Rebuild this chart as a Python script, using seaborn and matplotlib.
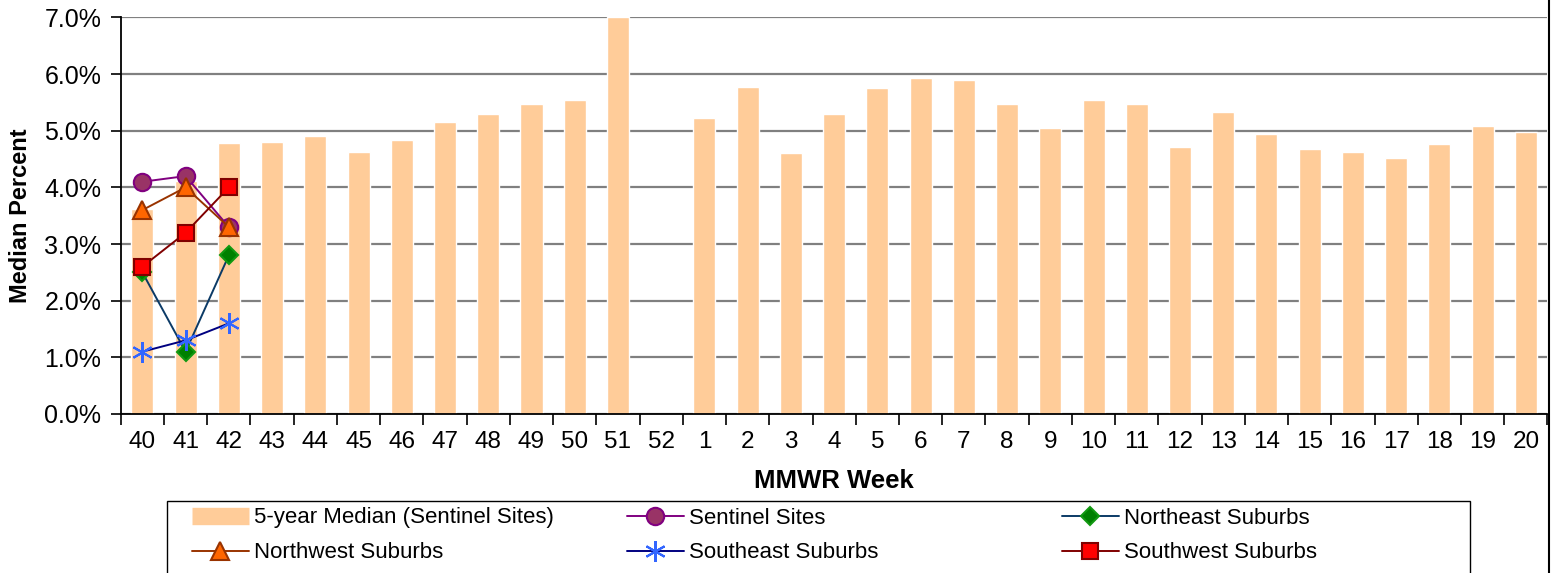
import numpy as np
import pandas as pd
import matplotlib
matplotlib.use("Agg")
import matplotlib.pyplot as plt
import matplotlib.ticker as mticker
from matplotlib.lines import Line2D
from matplotlib.patches import Rectangle
import seaborn as sns

# ---- data ----
weeks = ["40", "41", "42", "43", "44", "45", "46", "47", "48", "49", "50", "51", "52",
         "1", "2", "3", "4", "5", "6", "7", "8", "9", "10", "11", "12", "13", "14",
         "15", "16", "17", "18", "19", "20"]
median5 = [3.62, 4.12, 4.78, 4.80, 4.90, 4.62, 4.83, 5.15, 5.30, 5.47, 5.55, 7.0, np.nan,
           5.22, 5.78, 4.60, 5.30, 5.75, 5.93, 5.90, 5.47, 5.05, 5.55, 5.47, 4.72, 5.33,
           4.95, 4.67, 4.62, 4.52, 4.77, 5.08, 4.98]
obs_weeks = ["40", "41", "42"]
sentinel = [4.1, 4.2, 3.3]
northeast = [2.5, 1.1, 2.8]
northwest = [3.6, 4.0, 3.3]
southeast = [1.1, 1.3, 1.6]
southwest = [2.6, 3.2, 4.0]

bar_label = "5-year Median (Sentinel Sites)"
bar_color = "#FFCC99"
series = [
    ("Sentinel Sites", sentinel, dict(color="#800080", marker="o", markerfacecolor="#993366",
                                      markeredgecolor="#800080", markersize=12.5)),
    ("Northeast Suburbs", northeast, dict(color="#0B3A66", marker="D", markerfacecolor="#008000",
                                          markeredgecolor="#119911", markersize=9)),
    ("Northwest Suburbs", northwest, dict(color="#993300", marker="^", markerfacecolor="#FF6600",
                                          markeredgecolor="#993300", markersize=13)),
    ("Southeast Suburbs", southeast, dict(color="#000080", marker=(6, 2, 0), markerfacecolor="#3366FF",
                                          markeredgecolor="#3366FF", markersize=15)),
    ("Southwest Suburbs", southwest, dict(color="#800000", marker="s", markerfacecolor="#FF0000",
                                          markeredgecolor="#800000", markersize=12)),
]

sns.set_theme(style="white")
plt.rcParams["font.family"] = ["Liberation Sans", "DejaVu Sans"]
plt.rcParams["text.color"] = "black"

fig = plt.figure(figsize=(15.52, 5.73), dpi=100)
ax = fig.add_axes([0.0778, 0.2775, 0.9193, 0.692])

df_bar = pd.DataFrame({"week": weeks, "value": median5})
sns.barplot(data=df_bar, x="week", y="value", order=weeks, color=bar_color,
            saturation=1, width=0.51, ax=ax, zorder=2)

for name, vals, kw in series:
    d = pd.DataFrame({"week": obs_weeks, "value": vals})
    sns.pointplot(data=d, x="week", y="value", order=weeks, ax=ax,
                  linewidth=1.4, markeredgewidth=1.5, zorder=5, **kw)

ax.set_xlim(-0.5, len(weeks) - 0.5)
ax.set_ylim(0, 7)
ax.yaxis.set_major_locator(mticker.MultipleLocator(1))
ax.yaxis.set_major_formatter(mticker.FormatStrFormatter("%.1f%%"))
ax.yaxis.grid(True, color="#808080", linewidth=1.6)
ax.xaxis.grid(False)
ax.set_axisbelow(True)

ax.set_xticks(range(len(weeks)))
ax.set_xticklabels(weeks)
ax.set_xticks(np.arange(-0.5, len(weeks), 1.0), minor=True)
ax.tick_params(axis="x", which="major", length=0, labelsize=17.5, pad=12, colors="black")
ax.tick_params(axis="x", which="minor", length=8, width=1.2, color="black", direction="out", bottom=True)
ax.tick_params(axis="y", which="major", length=7, width=1.2, color="black", direction="out",
               left=True, labelsize=18, pad=7, labelcolor="black")

for s in ["top", "right"]:
    ax.spines[s].set_visible(False)
for s in ["left", "bottom"]:
    ax.spines[s].set_color("black")
    ax.spines[s].set_linewidth(1.3)

ax.set_xlabel("MMWR Week", fontsize=18.5, fontweight="bold", labelpad=12, color="black")
ax.set_ylabel("Median Percent", fontsize=17, fontweight="bold", labelpad=9, color="black")

# figure right border
fig.add_artist(Line2D([0.9978, 0.9978], [0, 1], transform=fig.transFigure, color="black", linewidth=1.5))

# legend: one frame, three columns
W, H = 1552.0, 573.0
fig.add_artist(Rectangle((166.7 / W, -0.05), (1470 - 166.7) / W, 0.05 + 1 - 500.7 / H,
                         transform=fig.transFigure, facecolor="white", edgecolor="black",
                         linewidth=1.0, zorder=1))
handles = {bar_label: Line2D([], [], color=bar_color, linewidth=12.5, solid_capstyle="butt")}
for name, vals, kw in series:
    handles[name] = Line2D([], [], linewidth=1.4, markeredgewidth=1.5, **kw)
columns = [(192, [bar_label, "Northwest Suburbs"]),
           (627, ["Sentinel Sites", "Southeast Suburbs"]),
           (1062, ["Northeast Suburbs", "Southwest Suburbs"])]
for xpix, labels in columns:
    leg = fig.legend([handles[k] for k in labels], labels, ncol=1, loc="upper left",
                     bbox_to_anchor=(xpix / W, 1 - 507.5 / H), bbox_transform=fig.transFigure,
                     borderaxespad=0, borderpad=0, frameon=False, fontsize=16,
                     handlelength=2.55, handletextpad=0.25, labelspacing=0.63,
                     labelcolor="black")
    leg.set_zorder(3)

fig.savefig("out.png", dpi=100, facecolor="white")
